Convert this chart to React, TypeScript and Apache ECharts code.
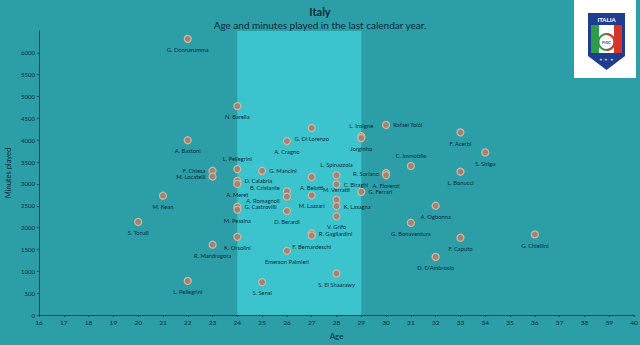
import React, { useEffect, useRef } from "react";
import * as echarts from "echarts";

const players = [
  "G. Donnarumma", "N. Barella", "A. Bastoni", "L. Pellegrini", "F. Chiesa", "M. Locatelli",
  "M. Kean", "S. Tonali", "R. Mandragora", "L. Pellegrini", "K. Orsolini", "D. Calabria",
  "A. Meret", "G. Castrovilli", "M. Pessina", "G. Mancini", "A. Cragno", "G. Di Lorenzo",
  "B. Cristante", "A. Romagnoli", "D. Berardi", "Emerson Palmieri", "S. Sensi", "A. Belotti",
  "M. Lazzari", "R. Gagliardini", "F. Bernardeschi", "L. Spinazzola", "C. Biraghi", "M. Verratti",
  "K. Lasagna", "V. Grifo", "S. El Shaarawy", "L. Insigne", "Jorginho", "Rafael Tolói",
  "F. Acerbi", "S. Sirigu", "C. Immobile", "R. Soriano", "A. Florenzi", "L. Bonucci",
  "G. Ferrari", "A. Ogbonna", "G. Bonaventura", "F. Caputo", "D. D'Ambrosio", "G. Chiellini",
];
const ages = [
  22, 24, 22, 24, 23, 23,
  21, 20, 23, 22, 24, 24,
  24, 24, 24, 25, 26, 27,
  26, 26, 26, 26, 25, 27,
  27, 27, 27, 28, 28, 28,
  28, 28, 28, 29, 29, 30,
  33, 34, 31, 30, 30, 33,
  29, 32, 31, 33, 32, 36,
];
const minutes = [
  6320, 4780, 4000, 3340, 3300, 3170,
  2730, 2130, 1610, 780, 1790, 3070,
  3000, 2480, 2410, 3300, 3980, 4280,
  2830, 2710, 2380, 1470, 750, 3160,
  2740, 1870, 1820, 3200, 2990, 2640,
  2490, 2260, 950, 4090, 4050, 4350,
  4180, 3720, 3410, 3250, 3200, 3280,
  2820, 2500, 2110, 1770, 1330, 1845,
];
const xTicks = { min: 16, max: 40, step: 1 };
const yTicks = { min: 0, max: 6500, step: 500 };
const titleText = "Italy";
const subtitleText = "Age and minutes played in the last calendar year.";
const bandAges = [24, 29];

// label placement (style), aligned with players
const labelPlace: string[] = [
  "bottom", "bottom", "bottom", "top", "left", "left",
  "bottom", "bottom", "bottom", "bottom", "bottom", "right",
  "bottom", "right", "bottom", "right", "bottom", "bottom",
  "leftUp", "leftDown", "bottom", "bottom", "bottom", "bottom",
  "bottom", "right", "bottom", "top", "right", "top",
  "right", "bottom", "bottom", "top", "bottom", "right",
  "bottom", "bottom", "top", "left", "bottom", "bottom",
  "right", "bottom", "bottom", "bottom", "bottom", "bottom",
];

const BG = "#2b9ea7";
const BAND = "#3cc4ce";
const INK = "#0c2a3a";
const AXIS = "#15475a";
const FONT = "Lato, 'Open Sans', sans-serif";

export default function App() {
  const ref = useRef<HTMLDivElement>(null);
  useEffect(() => {
    if (!ref.current) return;
    const chart = echarts.init(ref.current, null, { renderer: "svg" });
    const data = players.map((n, i) => {
      const p = labelPlace[i];
      let label: any = { show: true, position: p };
      if (p === "leftUp") label = { show: true, position: [-3, 0], align: "right", verticalAlign: "middle" };
      if (p === "leftDown") label = { show: true, position: [-3, 8.5], align: "right", verticalAlign: "middle" };
      return { value: [ages[i], minutes[i]], name: n, label };
    });
    const shieldX = 588, shieldW = 37;
    chart.setOption({
      animation: false,
      backgroundColor: BG,
      textStyle: { fontFamily: FONT },
      title: [
        { text: titleText, left: "center", top: 1, textStyle: { fontSize: 11, fontWeight: "bold", color: INK, fontFamily: FONT } },
        { text: subtitleText, left: "center", top: 15, textStyle: { fontSize: 10, fontWeight: "normal", color: INK, fontFamily: FONT } },
      ],
      grid: { left: 39, right: 6, top: 31, bottom: 30, outerBoundsMode: "none", containLabel: false },
      xAxis: {
        type: "value", min: xTicks.min, max: xTicks.max, interval: xTicks.step,
        name: "Age", nameLocation: "middle", nameGap: 17, nameMoveOverlap: false,
        nameTextStyle: { color: INK, fontSize: 8, fontFamily: FONT },
        axisLine: { show: true, lineStyle: { color: AXIS, width: 1 } },
        axisTick: { show: true, length: 2, lineStyle: { color: AXIS } },
        axisLabel: { color: INK, fontSize: 6.5, margin: 4, fontFamily: FONT },
        splitLine: { show: false },
      },
      yAxis: {
        type: "value", min: yTicks.min, max: yTicks.max, interval: yTicks.step,
        name: "Minutes played", nameLocation: "middle", nameGap: 27, nameRotate: 90, nameMoveOverlap: false,
        nameTextStyle: { color: INK, fontSize: 7.5, fontFamily: FONT },
        axisLine: { show: true, lineStyle: { color: AXIS, width: 1 } },
        axisTick: { show: true, length: 2, lineStyle: { color: AXIS } },
        axisLabel: { color: INK, fontSize: 6, margin: 4, fontFamily: FONT, showMaxLabel: false, formatter: (v: number) => String(v) },
        splitLine: { show: false },
      },
      series: [
        {
          type: "scatter",
          data,
          symbol: "circle",
          symbolSize: 7,
          itemStyle: { color: "#9a857b", borderColor: "#d3b39b", borderWidth: 1.3, opacity: 1 },
          label: {
            show: true,
            formatter: (p: any) => p.name,
            fontSize: 5.8,
            lineHeight: 7,
            color: INK,
            fontFamily: FONT,
            distance: 3,
          },
          labelLayout: { hideOverlap: false },
          markArea: {
            silent: true,
            itemStyle: { color: BAND, opacity: 1 },
            data: [[{ xAxis: bandAges[0] }, { xAxis: bandAges[1] }]],
          },
          z: 3,
        },
      ],
      graphic: [
        { type: "rect", shape: { x: 574, y: 0, width: 62, height: 78 }, style: { fill: "#ffffff" }, z: 10 },
        {
          type: "polygon",
          shape: { points: [[shieldX, 13], [shieldX + shieldW, 13], [shieldX + shieldW, 56], [shieldX + shieldW / 2, 70], [shieldX, 56]] },
          style: { fill: "#1e3d8f" }, z: 11,
        },
        { type: "rect", shape: { x: 591, y: 25, width: 8, height: 28 }, style: { fill: "#2f9a48" }, z: 12 },
        { type: "rect", shape: { x: 599, y: 25, width: 15, height: 28 }, style: { fill: "#ffffff" }, z: 12 },
        { type: "rect", shape: { x: 614, y: 25, width: 8, height: 28 }, style: { fill: "#d8342c" }, z: 12 },
        { type: "text", style: { text: "ITALIA", x: shieldX + shieldW / 2, y: 19, fill: "#ffffff", fontSize: 6, fontWeight: "bold", align: "center", verticalAlign: "middle", fontFamily: FONT }, z: 13 },
        { type: "circle", shape: { cx: 606.5, cy: 42, r: 8 }, style: { fill: "#ffffff", stroke: "#2f9a48", lineWidth: 2 }, z: 13 },
        { type: "arc", shape: { cx: 606.5, cy: 42, r: 8, startAngle: -Math.PI / 2, endAngle: Math.PI / 2 }, style: { stroke: "#d8342c", lineWidth: 2, fill: "none" }, z: 14 },
        { type: "text", style: { text: "FIGC", x: 606.5, y: 42, fill: "#1e3d8f", fontSize: 4, fontWeight: "bold", align: "center", verticalAlign: "middle", fontFamily: FONT }, z: 14 },
        { type: "text", style: { text: "★ ★ ★", x: 606.5, y: 59, fill: "#e8d9a0", fontSize: 4, align: "center", verticalAlign: "middle" }, z: 14 },
      ],
    });
    return () => chart.dispose();
  }, []);
  return <div ref={ref} style={{ position: "fixed", left: 0, top: 0, width: 640, height: 345 }} />;
}
